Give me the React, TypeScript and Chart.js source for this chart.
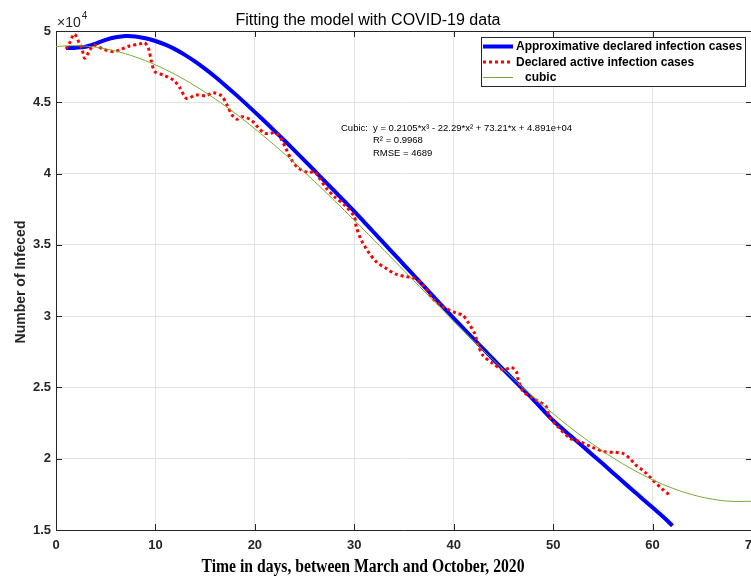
import { useEffect, useRef } from "react";
import { Chart, registerables } from "chart.js";

Chart.register(...registerables);

// ---- data ----
const xTicks = [0, 10, 20, 30, 40, 50, 60, 70];
const yTicks = [15000, 20000, 25000, 30000, 35000, 40000, 45000, 50000];

const modelDays = [
  1, 2, 3, 4, 5, 6, 7, 8, 9, 10, 11, 12, 13, 14, 15, 16, 17, 18, 19, 20, 21,
  22, 23, 24, 25, 26, 27, 28, 29, 30, 31, 32, 33, 34, 35, 36, 37, 38, 39, 40,
  41, 42, 43, 44, 45, 46, 47, 48, 49, 50, 51, 52, 53, 54, 55, 56, 57, 58, 59,
  60, 61, 62,
];
const modelCases = [
  48800, 48830, 48900, 49120, 49380, 49560, 49650, 49620, 49490, 49300,
  49040, 48710, 48310, 47850, 47340, 46790, 46200, 45590, 44960, 44310,
  43650, 42980, 42300, 41610, 40910, 40200, 39490, 38780, 38065, 37350,
  36600, 35850, 35100, 34350, 33600, 32850, 32100, 31350, 30600, 29850,
  29120, 28400, 27680, 26960, 26250, 25550, 24850, 24150, 23400, 22680,
  22050, 21450, 20850, 20250, 19640, 19020, 18400, 17790, 17180, 16570,
  15960, 15300,
];

const activeDays = [
  1.0, 1.35, 1.85, 2.35, 2.6, 2.9, 3.4, 3.85, 4.75, 5.75, 6.4, 7.4, 8.4, 8.9,
  9.3, 9.6, 9.95, 10.8, 11.8, 12.5, 13.1, 14.1, 15.1, 15.8, 16.65, 17.2, 17.7,
  18.2, 18.7, 19.3, 19.8, 20.5, 21.0, 21.5, 22.0, 22.5, 23.2, 23.7, 24.4, 25.4,
  26.0, 26.5, 27.2, 28.0, 29.0, 30.0, 30.2, 30.7, 31.4, 32.2, 33.2, 34.2, 35.2,
  35.9, 36.9, 37.8, 38.8, 40.3, 40.9, 41.4, 42.1, 42.4, 42.9, 43.9, 45.0, 45.8,
  46.3, 46.5, 47.0, 48.3, 49.3, 49.6, 50.3, 51.7, 52.7, 53.8, 55.2, 56.3, 57.0,
  57.7, 58.3, 59.2, 60.0, 60.9, 61.7,
];
const activeCases = [
  48740, 49140, 49790, 49140, 48780, 48090, 48670, 49020, 48720, 48550, 48670,
  48950, 49090, 49180, 48780, 47850, 47150, 46910, 46560, 45980, 45280, 45510,
  45460, 45670, 45450, 44810, 44110, 43810, 43990, 43880, 43640, 43100, 42820,
  42820, 42870, 42590, 41650, 40950, 40370, 40060, 40130, 39670, 38970, 38380,
  37800, 36980, 36270, 35340, 34520, 33820, 33350, 32940, 32770, 32700, 32190,
  31300, 30700, 30200, 30080, 29610, 28800, 28100, 27280, 26700, 26220, 26410,
  26100, 25520, 24700, 24120, 23650, 22950, 22370, 21430, 21200, 20840, 20490,
  20450, 20380, 20030, 19560, 19090, 18510, 17930, 17450,
];

const cubicDays = [
  0, 2, 4, 6, 8, 10, 12, 14, 16, 18, 20, 22, 24, 26, 28, 30, 32, 34, 36, 38,
  40, 42, 44, 46, 48, 50, 52, 54, 56, 58, 60, 62, 64, 66, 68, 70,
];
const cubicCases = [
  48910, 48969, 48860, 48592, 48177, 47624, 46943, 46144, 45237, 44234,
  43142, 41974, 40738, 39445, 38105, 36729, 35325, 33905, 32479, 31056,
  29646, 28261, 26909, 25601, 24348, 23158, 22043, 21012, 20076, 19244,
  18527, 17934, 17477, 17165, 17007, 17015,
];

const seriesLabels = [
  "Approximative declared infection cases",
  "Declared active infection cases",
  "cubic",
];
const chartTitle = "Fitting the model with COVID-19 data";
const xAxisTitle = "Time in days, between March and October, 2020";
const yAxisTitle = "Number of Infeced";
const fitLines = [
  "y = 0.2105*x³ - 22.29*x² + 73.21*x + 4.891e+04",
  "R² = 0.9968",
  "RMSE = 4689",
];

// ---- styling ----
const AXIS = "#262626";
const GRID = "#e3e3e3";
const BLUE = "#0000ff";
const RED = "#ff0000";
const GREEN = "#77ac30";
const SANS = "'Liberation Sans', Arial, sans-serif";
const SERIF = "'Liberation Serif', 'Times New Roman', serif";

const pairs = (xs: number[], ys: number[]) =>
  xs.map((x, i) => ({ x, y: ys[i] }));

const decorations = {
  id: "decorations",
  afterDraw(chart: any) {
    const { ctx, chartArea: a, scales } = chart;
    const xs = scales.x;
    const ys = scales.y;
    ctx.save();

    // box outline and inward tick marks
    ctx.strokeStyle = AXIS;
    ctx.lineWidth = 1;
    ctx.beginPath();
    ctx.moveTo(a.left, a.top + 0.5);
    ctx.lineTo(a.right, a.top + 0.5);
    ctx.moveTo(a.right - 0.5, a.top);
    ctx.lineTo(a.right - 0.5, a.bottom);
    xTicks.forEach((v) => {
      const px = Math.round(xs.getPixelForValue(v)) + 0.5;
      ctx.moveTo(px, a.bottom);
      ctx.lineTo(px, a.bottom - 6);
      ctx.moveTo(px, a.top);
      ctx.lineTo(px, a.top + 6);
    });
    yTicks.forEach((v) => {
      const py = Math.round(ys.getPixelForValue(v)) + 0.5;
      ctx.moveTo(a.left, py);
      ctx.lineTo(a.left + 6, py);
      ctx.moveTo(a.right, py);
      ctx.lineTo(a.right - 6, py);
    });
    ctx.stroke();

    // title
    ctx.fillStyle = "#000";
    ctx.font = `16px ${SANS}`;
    ctx.textAlign = "center";
    ctx.textBaseline = "alphabetic";
    ctx.fillText(chartTitle, 368, 25);

    // exponent label
    ctx.fillStyle = AXIS;
    ctx.textAlign = "left";
    ctx.font = `14px ${SANS}`;
    ctx.fillText("×10", 57, 27);
    const w = ctx.measureText("×10").width;
    ctx.font = `10px ${SANS}`;
    ctx.fillText("4", 57 + w + 1, 19);

    // y axis title
    ctx.save();
    ctx.translate(21, 282);
    ctx.rotate(-Math.PI / 2);
    ctx.font = `bold 14px ${SANS}`;
    ctx.textAlign = "center";
    ctx.textBaseline = "middle";
    ctx.fillStyle = AXIS;
    ctx.fillText(yAxisTitle, 0, 0);
    ctx.restore();

    // x axis title (condensed serif)
    ctx.save();
    ctx.translate(363, 567);
    ctx.scale(0.87, 1);
    ctx.font = `bold 18px ${SERIF}`;
    ctx.textAlign = "center";
    ctx.textBaseline = "middle";
    ctx.fillStyle = "#000";
    ctx.fillText(xAxisTitle, 0, 0);
    ctx.restore();

    // fit annotation
    ctx.fillStyle = "#000";
    ctx.font = `9.5px ${SANS}`;
    ctx.textBaseline = "middle";
    ctx.textAlign = "left";
    ctx.fillText("Cubic:", 341, 128);
    fitLines.forEach((t, i) => ctx.fillText(t, 373, 128 + i * 12.5));

    // legend
    const lx = 481.5;
    const ly = 37.5;
    const lw = 264;
    const lh = 49;
    ctx.fillStyle = "#fff";
    ctx.fillRect(lx, ly, lw, lh);
    ctx.strokeStyle = AXIS;
    ctx.lineWidth = 1;
    ctx.strokeRect(lx, ly, lw, lh);
    const rows = [46.5, 62, 77.5];
    ctx.font = `bold 12px ${SANS}`;
    ctx.fillStyle = "#000";
    ctx.textBaseline = "middle";
    rows.forEach((ry, i) => {
      ctx.beginPath();
      ctx.moveTo(483, ry);
      ctx.lineTo(513, ry);
      if (i === 0) {
        ctx.strokeStyle = BLUE;
        ctx.lineWidth = 4;
        ctx.setLineDash([]);
      } else if (i === 1) {
        ctx.strokeStyle = RED;
        ctx.lineWidth = 3;
        ctx.setLineDash([3, 3]);
      } else {
        ctx.strokeStyle = GREEN;
        ctx.lineWidth = 1;
        ctx.setLineDash([]);
      }
      ctx.stroke();
      ctx.setLineDash([]);
      ctx.fillText(seriesLabels[i], i === 2 ? 525 : 516, ry + 0.5);
    });

    ctx.restore();
  },
};

export default function App() {
  const canvasRef = useRef<HTMLCanvasElement | null>(null);

  useEffect(() => {
    const canvas = canvasRef.current;
    if (!canvas) return;
    const chart = new Chart(canvas, {
      type: "line",
      data: {
        datasets: [
          {
            label: seriesLabels[0],
            data: pairs(modelDays, modelCases),
            borderColor: BLUE,
            borderWidth: 4,
            pointRadius: 0,
            tension: 0.3,
            order: 3,
          },
          {
            label: seriesLabels[1],
            data: pairs(activeDays, activeCases),
            borderColor: RED,
            borderWidth: 3,
            borderDash: [3, 3],
            borderCapStyle: "butt",
            pointRadius: 0,
            tension: 0.3,
            order: 2,
          },
          {
            label: seriesLabels[2],
            data: pairs(cubicDays, cubicCases),
            borderColor: GREEN,
            borderWidth: 1,
            pointRadius: 0,
            tension: 0.4,
            order: 1,
          },
        ],
      },
      options: {
        animation: false,
        responsive: false,
        devicePixelRatio: 1,
        layout: { padding: { top: 31, right: 28, left: 0, bottom: 0 } },
        plugins: {
          legend: { display: false },
          tooltip: { enabled: false },
        },
        scales: {
          x: {
            type: "linear",
            min: 0,
            max: 70,
            afterBuildTicks: (s: any) => {
              s.ticks = xTicks.map((v) => ({ value: v }));
            },
            afterFit: (s: any) => {
              s.height = 46;
            },
            grid: { color: GRID, drawTicks: false },
            border: { color: AXIS, width: 1 },
            ticks: {
              color: AXIS,
              padding: 8,
              maxRotation: 0,
              font: { family: SANS, size: 13, weight: "bold" },
            },
          },
          y: {
            type: "linear",
            min: 15000,
            max: 50000,
            afterBuildTicks: (s: any) => {
              s.ticks = yTicks.map((v) => ({ value: v }));
            },
            afterFit: (s: any) => {
              s.width = 56;
            },
            grid: { color: GRID, drawTicks: false },
            border: { color: AXIS, width: 1 },
            ticks: {
              color: AXIS,
              padding: 5,
              callback: (v: any) => String(Number(v) / 10000),
              font: { family: SANS, size: 13, weight: "bold" },
            },
          },
        },
      },
      plugins: [decorations],
    } as any);
    return () => chart.destroy();
  }, []);

  return (
    <div
      style={{
        position: "absolute",
        left: 0,
        top: 0,
        width: 751,
        height: 576,
        overflow: "hidden",
        background: "#fff",
      }}
    >
      <canvas
        ref={canvasRef}
        width={780}
        height={576}
        style={{ width: 780, height: 576, display: "block" }}
      />
    </div>
  );
}
